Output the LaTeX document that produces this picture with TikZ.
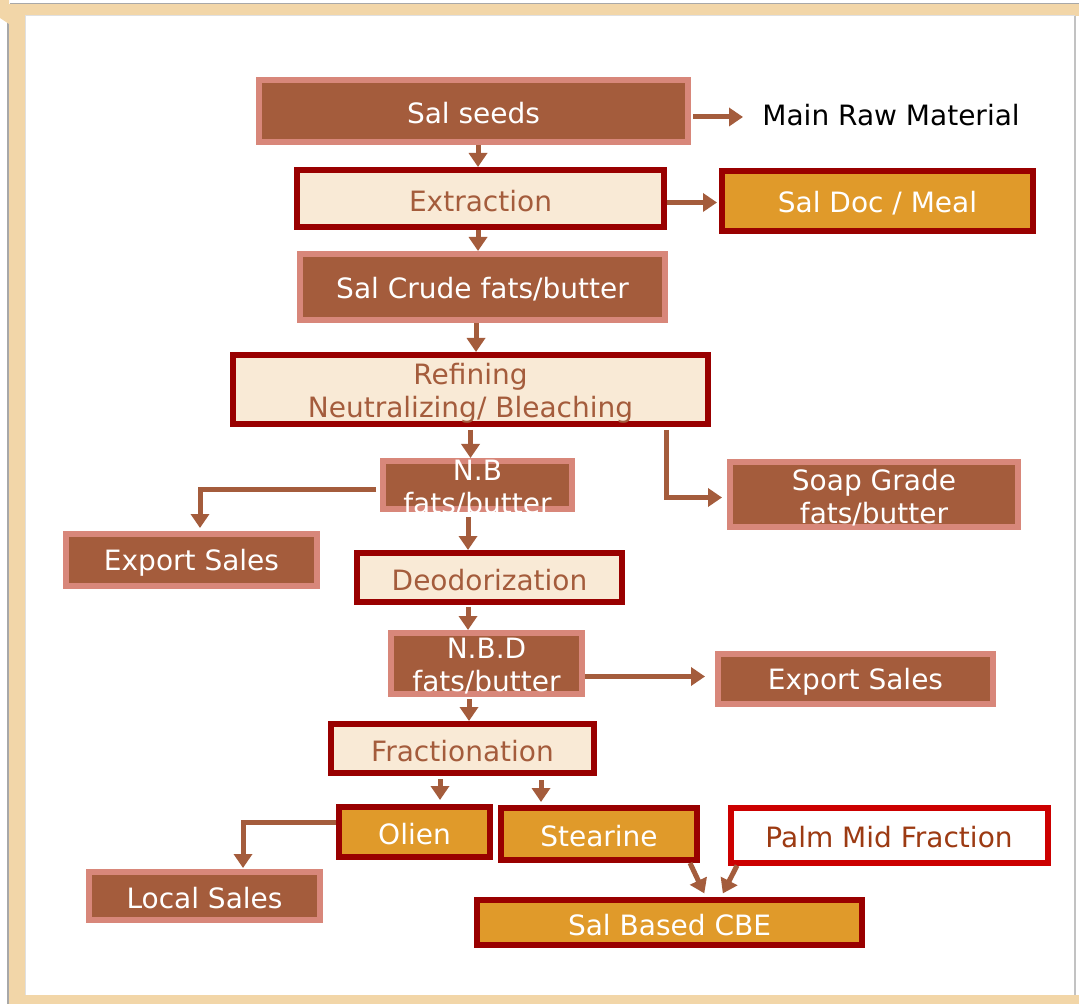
\documentclass[tikz,border=0pt]{standalone}
\usepackage{fontspec}
\usepackage{tikz}
\usetikzlibrary{arrows.meta, calc}
\newfontfamily\salfont{DejaVu Sans}
\definecolor{salbrown}{HTML}{A45C3C}
\definecolor{salpink}{HTML}{D8877A}
\definecolor{salcream}{HTML}{F9EAD6}
\definecolor{saldark}{HTML}{990000}
\definecolor{salorange}{HTML}{E09A2A}
\definecolor{salred}{HTML}{CC0000}
\definecolor{palmtext}{HTML}{9C3A12}
\definecolor{paneltan}{HTML}{F2D6A8}
\definecolor{panelgrey}{HTML}{A8A8A8}
\tikzset{
  box/.style={rectangle, inner sep=0pt, line width=3pt, align=center,
    font=\salfont\fontsize{14pt}{16.5pt}\selectfont,
    execute at begin node={\rule{0pt}{13pt}}},
  brownbox/.style={box, fill=salbrown, draw=salpink, text=white},
  creambox/.style={box, fill=salcream, draw=saldark, text=salbrown},
  orangebox/.style={box, fill=salorange, draw=saldark, text=white},
  palmbox/.style={box, fill=white, draw=salred, text=palmtext},
  inlabel/.style={text=white, align=center, inner sep=0pt, yshift=-1.5pt,
    font=\salfont\fontsize{14pt}{16.5pt}\selectfont},
  flow/.style={draw=salbrown, line width=2.5pt,
    -{Triangle[width=9pt,length=7pt]}}
}
\begin{document}
\begin{tikzpicture}[x=0.5pt, y=-0.5pt]
  \useasboundingbox (0,0) rectangle (1079,1004);
  % Draw the panel frame
  \fill[paneltan] (8,4) rectangle (1079,1004);
  \fill[white] (25,16) rectangle (1079,995);
  \draw[black!12, line width=0.5pt] (25,995) -- (25,16) -- (1075,16);
  \draw[panelgrey!70, line width=0.6pt] (1075,16) -- (1075,995);
  \draw[panelgrey, line width=0.6pt] (10,3.5) -- (1079,3.5);
  \draw[panelgrey, line width=0.6pt] (8,22) -- (8,1004);
  \fill[paneltan] (0,0) -- (9,0) -- (9,24) -- (0,18) -- cycle;

  % Main line of the process
  \node[brownbox, minimum width=214.5pt, minimum height=31pt] (seeds) at (473.5,111) {Sal seeds};
  \node[creambox, minimum width=183.5pt, minimum height=28.5pt] (extr) at (480.5,198.5) {Extraction};
  \node[brownbox, minimum width=182.5pt, minimum height=33pt] (crude) at (482.5,287) {Sal Crude fats/butter};
  \node[creambox, minimum width=237.5pt, minimum height=34.5pt,
    label={[inlabel, text=salbrown, yshift=-0.5pt]center:Refining\\Neutralizing/ Bleaching}] (refin) at (470.5,389.5) {};
  \node[brownbox, minimum width=94.5pt, minimum height=24pt,
    label={[inlabel]center:N.B\\fats/butter}] (nb) at (477.5,485) {};
  \node[creambox, minimum width=132.5pt, minimum height=24.5pt] (deod) at (489.5,577.5) {Deodorization};
  \node[brownbox, minimum width=95.5pt, minimum height=30.5pt,
    label={[inlabel]center:N.B.D\\fats/butter}] (nbd) at (486.5,663.5) {};
  \node[creambox, minimum width=131.5pt, minimum height=24.5pt] (frac) at (462.5,748.5) {Fractionation};
  \node[orangebox, minimum width=75.5pt, minimum height=25pt] (olien) at (414.5,832) {Olien};
  \node[orangebox, minimum width=98pt, minimum height=26pt] (stear) at (599,834) {Stearine};
  \node[orangebox, minimum width=192.5pt, minimum height=22.5pt] (cbe) at (669.5,922.5) {Sal Based CBE};

  % Side products and sales
  \node[inner sep=0pt, anchor=west, font=\salfont\fontsize{14pt}{16.5pt}\selectfont] (mrm) at (762,115) {Main Raw Material};
  \node[orangebox, minimum width=155.5pt, minimum height=30pt] (doc) at (877.5,201) {Sal Doc / Meal};
  \node[brownbox, minimum width=144pt, minimum height=32.5pt,
    label={[inlabel]center:Soap Grade\\fats/butter}] (soap) at (874,494.5) {};
  \node[brownbox, minimum width=125.5pt, minimum height=26pt] (expL) at (191.5,560) {Export Sales};
  \node[brownbox, minimum width=137.5pt, minimum height=25pt] (expR) at (855.5,679) {Export Sales};
  \node[brownbox, minimum width=115.5pt, minimum height=24pt] (local) at (204.5,896) {Local Sales};
  \node[palmbox, minimum width=158.5pt, minimum height=27.5pt] (palm) at (889,835) {Palm Mid Fraction};

  % Arrows
  \draw[flow] ([xshift=2.25pt]seeds.south) -- ([xshift=2.25pt]seeds.south |- extr.north);
  \draw[flow] ([xshift=-1.25pt]extr.south) -- ([xshift=-1.25pt]extr.south |- crude.north);
  \draw[flow] ([xshift=-3.25pt]crude.south) -- ([xshift=-3.25pt]crude.south |- refin.north);
  \draw[flow, shorten <=1.5pt] (refin.south) -- (refin.south |- nb.north);
  \draw[flow, shorten <=2.5pt] ([xshift=-4.75pt]nb.south) -- ([xshift=-4.75pt]nb.south |- deod.north);
  \draw[flow, shorten <=1pt] ([xshift=-10.75pt]deod.south) -- ([xshift=-10.75pt]deod.south |- nbd.north);
  \draw[flow, shorten <=1pt] ([xshift=-8.75pt]nbd.south) -- ([xshift=-8.75pt]nbd.south |- frac.north);
  \draw[flow, shorten <=1.5pt, shorten >=2pt] ([xshift=-11.25pt]frac.south) -- ([xshift=-11.25pt]frac.south |- olien.north);
  \draw[flow, shorten <=2pt, shorten >=1.5pt] ([xshift=39.25pt]frac.south) -- ([xshift=39.25pt]frac.south |- stear.north);

  \draw[flow, shorten <=1pt, shorten >=9.5pt] ([yshift=-3pt]seeds.east) -- ([yshift=-3pt]seeds.east -| mrm.west);
  \draw[flow, shorten >=1pt] ([yshift=-2pt]extr.east) -- ([yshift=-2pt]extr.east -| doc.west);
  \draw[flow, shorten <=1.5pt, shorten >=2.5pt] ([xshift=97.75pt]refin.south) |- ([yshift=-1.5pt]soap.west);
  \draw[flow, shorten <=2pt, shorten >=1.5pt] ([yshift=-2pt]nb.west) -| ([xshift=4.25pt]expL.north);
  \draw[flow, shorten >=5pt] ([yshift=-6.5pt]nbd.east) -- ([yshift=-6.5pt]nbd.east -| expR.west);
  \draw[flow, shorten >=0.5pt] ([yshift=5pt]olien.west) -| ([xshift=19.25pt]local.north);
  \draw[flow, shorten >=2pt] ([xshift=45.5pt]stear.south) -- ([xshift=18.25pt]cbe.north);
  \draw[flow, shorten >=2pt] ([xshift=-76pt]palm.south) -- ([xshift=25.75pt]cbe.north);
\end{tikzpicture}
\end{document}
